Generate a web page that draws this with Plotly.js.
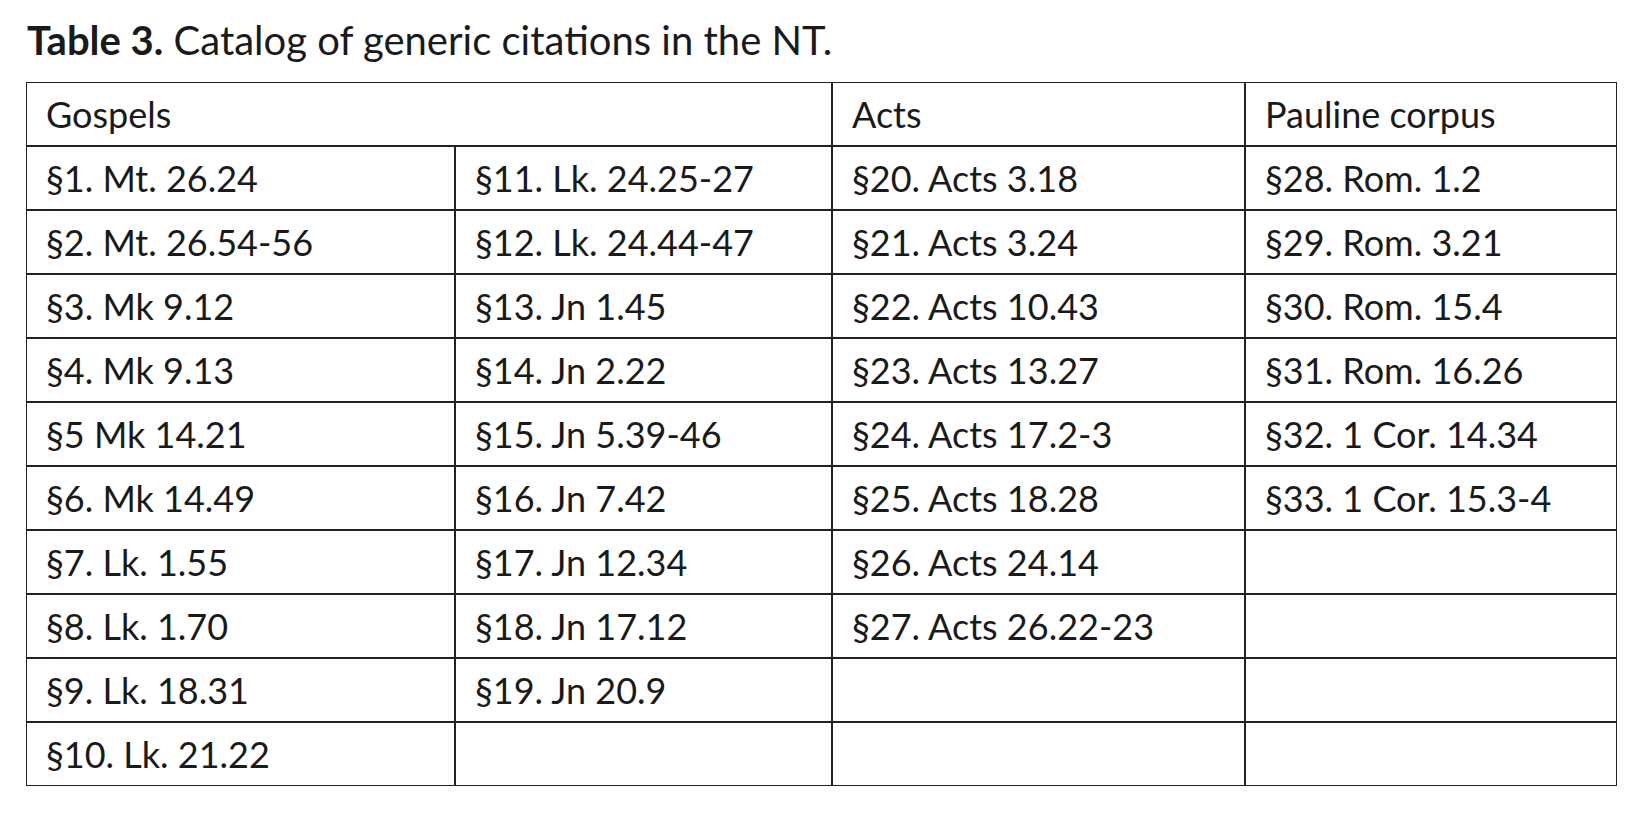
<!DOCTYPE html>
<html>
<head>
<meta charset="utf-8">
<script src="https://cdn.plot.ly/plotly-3.0.1.min.js"></script>
<style>html,body{margin:0;padding:0;background:#fff;}#chart{width:1644px;height:813px;}</style>
</head>
<body>
<div id="chart"></div>
<script>
// ---- data ----
const titleText = "<b>Table 3.</b> Catalog of generic citations in the NT.";
const headers = ["Gospels", "", "Acts", "Pauline corpus"];
const gospelsA = ["§1. Mt. 26.24", "§2. Mt. 26.54-56", "§3. Mk 9.12", "§4. Mk 9.13", "§5 Mk 14.21",
  "§6. Mk 14.49", "§7. Lk. 1.55", "§8. Lk. 1.70", "§9. Lk. 18.31", "§10. Lk. 21.22"];
const gospelsB = ["§11. Lk. 24.25-27", "§12. Lk. 24.44-47", "§13. Jn 1.45", "§14. Jn 2.22", "§15. Jn 5.39-46",
  "§16. Jn 7.42", "§17. Jn 12.34", "§18. Jn 17.12", "§19. Jn 20.9", ""];
const acts = ["§20. Acts 3.18", "§21. Acts 3.24", "§22. Acts 10.43", "§23. Acts 13.27", "§24. Acts 17.2-3",
  "§25. Acts 18.28", "§26. Acts 24.14", "§27. Acts 26.22-23", "", ""];
const pauline = ["§28. Rom. 1.2", "§29. Rom. 3.21", "§30. Rom. 15.4", "§31. Rom. 16.26", "§32. 1 Cor. 14.34",
  "§33. 1 Cor. 15.3-4", "", "", "", ""];

// ---- layout geometry ----
const colWidths = [429, 377, 413, 372];
const colEdges = [0];
colWidths.forEach(w => colEdges.push(colEdges[colEdges.length - 1] + w));
const totalW = colEdges[colEdges.length - 1];
const columns = [gospelsA, gospelsB, acts, pauline];
const nRows = 1 + gospelsA.length;
const pad = 20;
const vShift = 0.08;
const fontFam = "Lato, 'Open Sans', sans-serif";
const txtColor = "#1a1a1a";
const lineColor = "#222222";

const xs = [], ys = [], ts = [];
headers.forEach((h, c) => { if (h) { xs.push(colEdges[c] + pad); ys.push(0.5 + vShift); ts.push(h); } });
columns.forEach((col, c) => {
  col.forEach((v, r) => { if (v) { xs.push(colEdges[c] + pad); ys.push(r + 1.5 + vShift); ts.push(v); } });
});

const trace = {
  type: "scatter", mode: "text", x: xs, y: ys, text: ts,
  textposition: "middle right", hoverinfo: "skip", cliponaxis: false,
  textfont: { family: fontFam, size: 36, color: txtColor }
};

const shapes = [];
for (let r = 0; r <= nRows; r++) {
  shapes.push({ type: "line", xref: "x", yref: "y", x0: 0, x1: totalW, y0: r, y1: r,
    line: { color: lineColor, width: 2 } });
}
colEdges.forEach((xe, i) => {
  const y0 = (i === 1) ? 1 : 0;
  shapes.push({ type: "line", xref: "x", yref: "y", x0: xe, x1: xe, y0: y0, y1: nRows,
    line: { color: lineColor, width: 2 } });
});

const layout = {
  width: 1644, height: 813,
  margin: { l: 26, r: 27, t: 82, b: 27, pad: 0 },
  paper_bgcolor: "#fff", plot_bgcolor: "#fff",
  showlegend: false,
  xaxis: { range: [0, totalW], visible: false, fixedrange: true },
  yaxis: { range: [nRows, 0], visible: false, fixedrange: true },
  shapes: shapes,
  title: {
    text: titleText, xref: "container", yref: "container",
    x: 27 / 1644, xanchor: "left", y: 1 - 41 / 813, yanchor: "middle",
    font: { family: fontFam, size: 40, color: txtColor }
  }
};

Plotly.newPlot("chart", [trace], layout, { staticPlot: true, displayModeBar: false });
</script>
</body>
</html>
